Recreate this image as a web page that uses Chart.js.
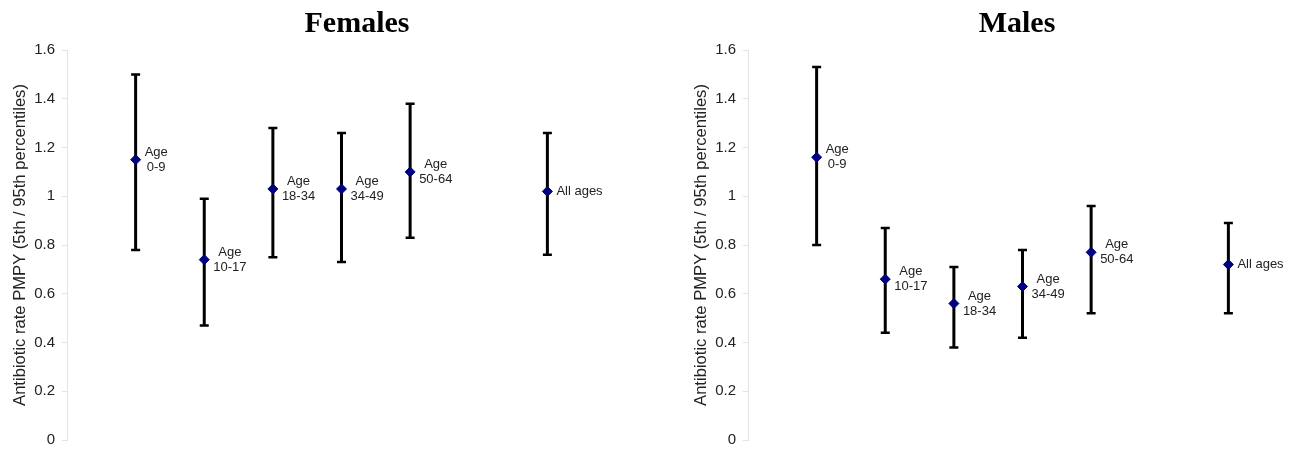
<!DOCTYPE html>
<html>
<head>
<meta charset="utf-8">
<script src="https://cdn.jsdelivr.net/npm/chart.js@4.4.1/dist/chart.umd.min.js"></script>
<style>
    body { margin: 0; background: #fff; }
    .panel { position: absolute; top: 0; width: 622px; height: 449px; }
    #left { left: 0; }
    #right { left: 681px; }
</style>
</head>
<body>
<div class="panel" id="left"><canvas id="femalesChart"></canvas></div>
<div class="panel" id="right"><canvas id="malesChart"></canvas></div>
<script>
// Age groups; slot 6 is left empty in the figure
const groups = ["0-9", "10-17", "18-34", "34-49", "50-64", "All ages"];
const groupSlots = [1, 2, 3, 4, 5, 7];
const yTicks = [0, 0.2, 0.4, 0.6, 0.8, 1, 1.2, 1.4, 1.6];

// Females
const femalesRate = [1.15, 0.74, 1.03, 1.03, 1.10, 1.02];
const femalesLow = [0.78, 0.47, 0.75, 0.73, 0.83, 0.76];
const femalesHigh = [1.50, 0.99, 1.28, 1.26, 1.38, 1.26];

// Males
const malesRate = [1.16, 0.66, 0.56, 0.63, 0.77, 0.72];
const malesLow = [0.80, 0.44, 0.38, 0.42, 0.52, 0.52];
const malesHigh = [1.53, 0.87, 0.71, 0.78, 0.96, 0.89];

Chart.defaults.font.family = "'Liberation Sans', Arial, sans-serif";
Chart.defaults.color = "#222";

// Error bars with caps, drawn under the markers
const errorBars = {
    id: "errorBars",
    beforeDatasetsDraw(chart, args, opts) {
        const { ctx, scales } = chart;
        ctx.save();
        ctx.strokeStyle = "#000";
        groupSlots.forEach((slot, i) => {
            const x = scales.x.getPixelForValue(slot);
            const yLo = scales.y.getPixelForValue(opts.low[i]);
            const yHi = scales.y.getPixelForValue(opts.high[i]);
            ctx.lineWidth = 3;
            ctx.beginPath();
            ctx.moveTo(x, yLo);
            ctx.lineTo(x, yHi);
            ctx.stroke();
            ctx.lineWidth = 2.5;
            ctx.beginPath();
            ctx.moveTo(x - 4.5, yLo);
            ctx.lineTo(x + 4.5, yLo);
            ctx.moveTo(x - 4.5, yHi);
            ctx.lineTo(x + 4.5, yHi);
            ctx.stroke();
        });
        ctx.restore();
    },
};

// Text next to each point
const pointLabels = {
    id: "pointLabels",
    afterDatasetsDraw(chart) {
        const { ctx } = chart;
        const meta = chart.getDatasetMeta(0);
        ctx.save();
        ctx.font = "13px 'Liberation Sans', Arial, sans-serif";
        ctx.fillStyle = "#222";
        ctx.textBaseline = "middle";
        meta.data.forEach((pt, i) => {
            const lines = groups[i] === "All ages" ? ["All ages"] : ["Age", groups[i]];
            const w = Math.max(...lines.map((l) => ctx.measureText(l).width));
            const cx = pt.x + 9 + w / 2;
            ctx.textAlign = "center";
            lines.forEach((l, k) => {
                const dy = (k - (lines.length - 1) / 2) * 15;
                ctx.fillText(l, cx, pt.y + dy);
            });
        });
        ctx.restore();
    },
};

// Panel heading
const panelTitle = {
    id: "panelTitle",
    afterDraw(chart, args, opts) {
        const { ctx } = chart;
        ctx.save();
        ctx.font = "bold 30px 'Liberation Serif', 'Times New Roman', serif";
        ctx.fillStyle = "#000";
        ctx.textAlign = "center";
        ctx.textBaseline = "alphabetic";
        ctx.fillText(opts.text, opts.x, 32);
        ctx.restore();
    },
};

function makeChart(id, title, titleX, rate, low, high) {
    const ctx = document.getElementById(id).getContext("2d");
    return new Chart(ctx, {
        type: "scatter",
        data: {
            datasets: [
                {
                    data: groupSlots.map((s, i) => ({ x: s, y: rate[i] })),
                    pointStyle: "rectRot",
                    pointRadius: 5,
                    pointHoverRadius: 5,
                    backgroundColor: "#000080",
                    borderColor: "#000080",
                    borderWidth: 1,
                },
            ],
        },
        plugins: [errorBars, pointLabels, panelTitle],
        options: {
            responsive: true,
            maintainAspectRatio: false,
            animation: false,
            layout: {
                padding: { top: 50, bottom: 9, left: 0, right: 1 },
            },
            plugins: {
                legend: { display: false },
                tooltip: { enabled: false },
                errorBars: { low: low, high: high },
                panelTitle: { text: title, x: titleX },
            },
            scales: {
                x: {
                    type: "linear",
                    min: 0,
                    max: 8,
                    display: false,
                },
                y: {
                    min: 0,
                    max: 1.6,
                    afterBuildTicks: (scale) => {
                        scale.ticks = yTicks.map((v) => ({ value: v }));
                    },
                    afterFit: (scale) => {
                        scale.width = 67;
                        scale.paddingTop = 0;
                        scale.paddingBottom = 0;
                    },
                    ticks: {
                        color: "#222",
                        font: { size: 15 },
                        padding: 7,
                        callback: (v) => String(v),
                    },
                    grid: {
                        drawOnChartArea: false,
                        drawTicks: true,
                        tickLength: 5,
                        color: "#e3e3e3",
                    },
                    border: { color: "#e3e3e3" },
                    title: {
                        display: true,
                        text: "Antibiotic rate PMPY (5th / 95th percentiles)",
                        color: "#222",
                        font: { size: 16.6 },
                        padding: { top: 10, bottom: 0 },
                    },
                },
            },
        },
    });
}

makeChart("femalesChart", "Females", 357, femalesRate, femalesLow, femalesHigh);
makeChart("malesChart", "Males", 336, malesRate, malesLow, malesHigh);
</script>
</body>
</html>
